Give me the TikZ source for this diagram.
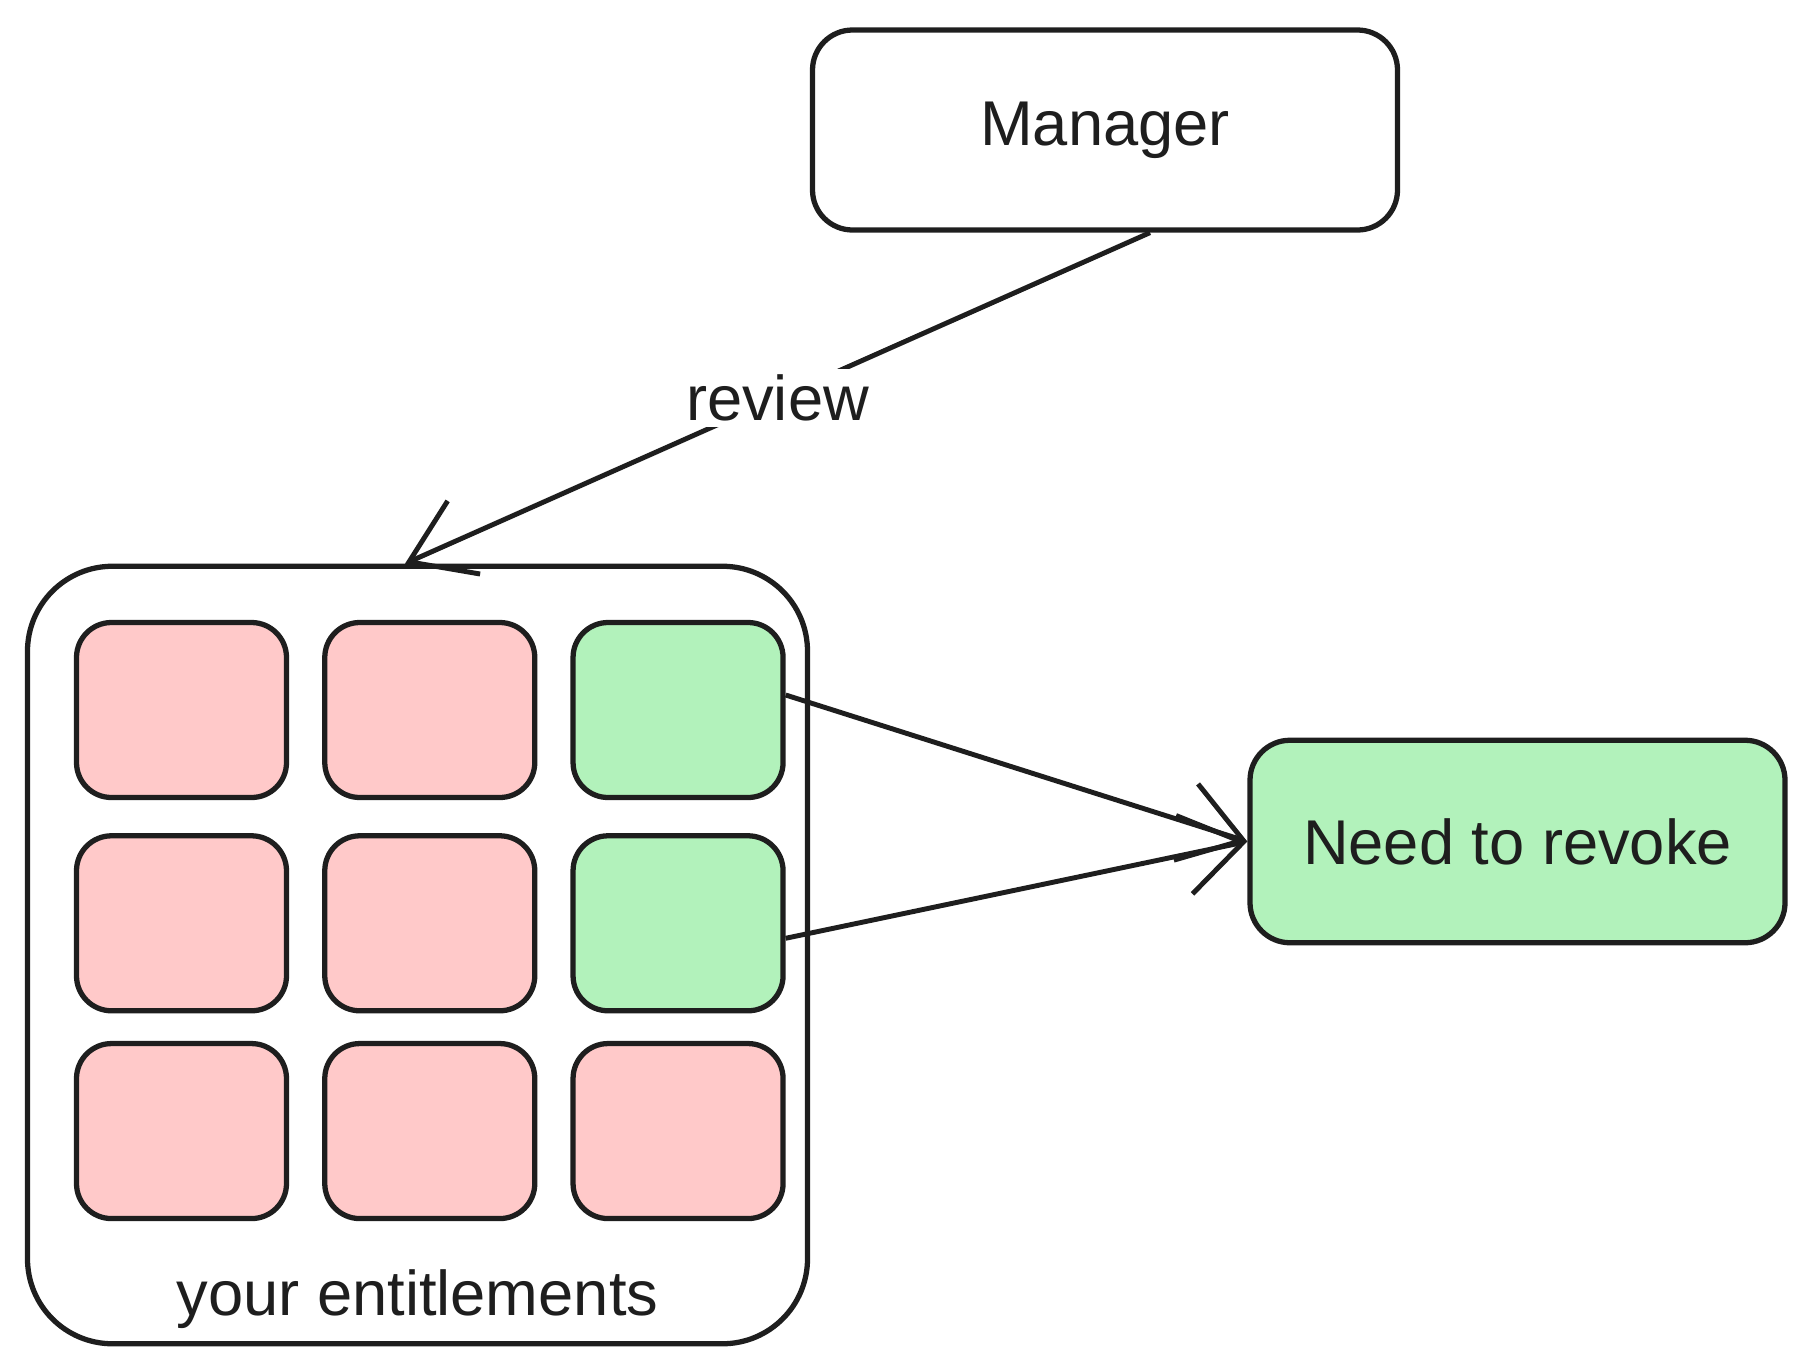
\documentclass[tikz,border=0pt]{standalone}
\usepackage{fontspec}
\setmainfont{Liberation Sans}
\usetikzlibrary{positioning}
\usetikzlibrary{arrows.meta}
\definecolor{inkgray}{HTML}{1E1E1E}
\definecolor{cellpink}{HTML}{FFC9C9}
\definecolor{cellgreen}{HTML}{B2F2BB}
\tikzstyle{box} = [rectangle,rounded corners=0.8cm,draw=inkgray,line width=3pt,minimum width=11.7cm,minimum height=4cm]
\tikzstyle{P} = [rectangle,rounded corners=0.7cm,fill=cellpink,draw=inkgray,line width=3pt,minimum width=4.2cm,minimum height=3.5cm]
\tikzstyle{G} = [P,fill=cellgreen]
\tikzstyle{conn} = [->,draw=inkgray,line width=2.8pt]
\tikzset{>={Straight Barb[length=12mm,width=16mm]}}

\begin{document}
\begin{tikzpicture}[font=\fontsize{36}{42}\selectfont,text=inkgray]
  \useasboundingbox (0,0) rectangle (36.26,-27.42);
  \node [box] (mgr) at (22.1,-2.6) {Manager};
  \node [box,fill=cellgreen,minimum width=10.7cm,minimum height=4.05cm] (rev) at (30.35,-16.83) {Need to revoke};

  \node [box,rounded corners=1.7cm,minimum width=15.6cm,minimum height=15.55cm] (ent) at (8.35,-19.1) {};

  \node [P] (e1) at (3.63,-14.2) {};
  \node [P,right=0.66cm of e1] (e2) {};
  \node [G,right=0.66cm of e2] (e3) {};
  \node [P,below=0.66cm of e1] (e4) {};
  \node [P,right=0.66cm of e4] (e5) {};
  \node [G,right=0.66cm of e5] (e6) {};
  \node [P,below=0.55cm of e4] (e7) {};
  \node [P,right=0.66cm of e7] (e8) {};
  \node [P,right=0.66cm of e8] (e9) {};

  \node [above=0.35cm of ent.south,inner sep=0] (lbl) {your entitlements};

  \draw [conn] ([xshift=0.9cm]mgr.south) -- ([xshift=-0.25cm]ent.north) node [midway,fill=white] {review};
  \draw [conn] ([yshift=0.3cm]e3.east) -- (rev.west);
  \draw [conn] ([yshift=-0.3cm]e6.east) -- (rev.west);
\end{tikzpicture}
\end{document}
